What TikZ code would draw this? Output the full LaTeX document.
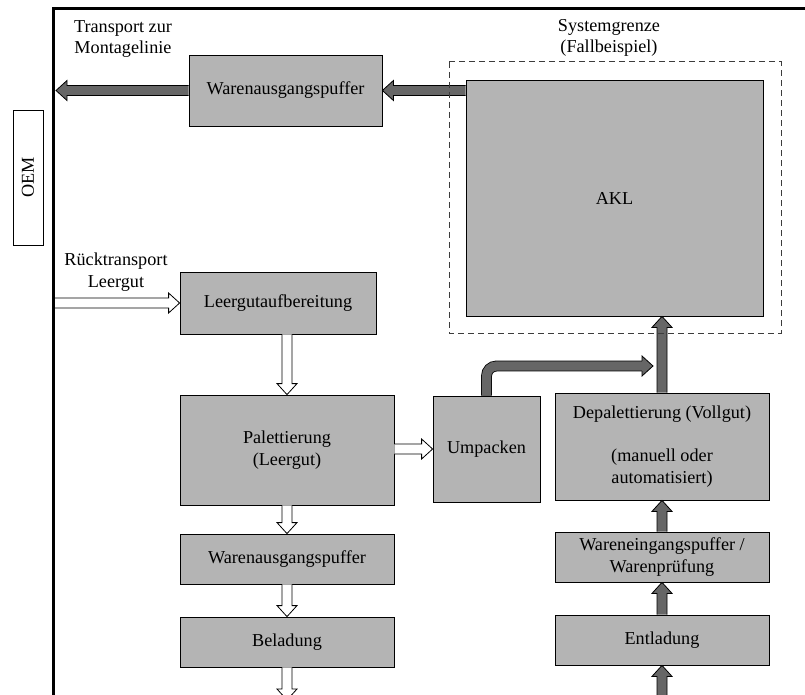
\documentclass[tikz,border=0pt]{standalone}
\usepackage{fontspec}
\setmainfont{Liberation Serif}
\usetikzlibrary{calc}

\definecolor{boxgray}{RGB}{180,180,180}
\definecolor{arrowdark}{RGB}{102,102,102}
\definecolor{dashgray}{RGB}{60,60,60}

\tikzset{
  stepbox/.style={draw=black, fill=boxgray, line width=0.8pt, inner sep=2pt, align=center},
  label text/.style={align=center, inner sep=0pt},
  headline/.style={draw=black, line width=0.8pt, line join=miter},
  frameline/.style={line width=3pt, line join=miter},
  boundary/.style={draw=dashgray, line width=1pt, dash pattern=on 6pt off 4pt},
}

% block arrow as one outlined shape: #1 fill, #2 tail, #3 tip
% (the tail end is left open, it sits on a box edge or the frame)
\newcommand\blockarrow[3]{%
  \coordinate (hb) at ($(#3)!11pt!(#2)$);
  \filldraw[fill=#1, headline]
    ($(#2)!5pt!90:(#3)$) -- ($(hb)!5pt!90:(#3)$) -- ($(hb)!10pt!90:(#3)$) -- (#3)
    -- ($(hb)!10pt!-90:(#3)$) -- ($(hb)!5pt!-90:(#3)$) -- ($(#2)!5pt!-90:(#3)$);
}
% head only: #1 fill, #2 point behind the tip, #3 tip
\newcommand\blockhead[3]{%
  \coordinate (hb) at ($(#3)!11pt!(#2)$);
  \filldraw[fill=#1, headline]
    ($(hb)!5pt!90:(#3)$) -- ($(hb)!10pt!90:(#3)$) -- (#3)
    -- ($(hb)!10pt!-90:(#3)$) -- ($(hb)!5pt!-90:(#3)$);
}

\begin{document}
\begin{tikzpicture}[x=1pt, y=-1pt, font=\fontsize{18.2}{21.5}\selectfont]
  \useasboundingbox (0,0) rectangle (805,695);

  % outer frame of the plant
  \draw[frameline] (53.5,695) -- (53.5,8.5) -- (805,8.5);

  % OEM side
  \node[draw=black, line width=0.8pt, minimum width=30pt, minimum height=135pt, inner sep=0pt]
    (oem) at (28,177.5) {};
  \node[rotate=90] (oemlabel) at (oem.center) {OEM};

  % process blocks
  \node[stepbox, minimum width=193pt, minimum height=71pt] (wa1) at (285.5,90.5) {Warenausgangspuffer};
  \node[stepbox, minimum width=297pt, minimum height=236pt] (akl) at (614.5,198) {AKL};
  \node[stepbox, minimum width=196pt, minimum height=62pt] (leer) at (278,303) {Leergutaufbereitung};
  \node[stepbox, minimum width=214pt, minimum height=110pt] (pal) at (287,450) {Palettierung\\(Leergut)};
  \node[stepbox, minimum width=107pt, minimum height=106pt] (ump) at (486.5,449) {Umpacken};
  \node[stepbox, minimum width=214pt, minimum height=107pt] (depal) at (662,446.5)
    {Depalettierung (Vollgut)\\[21.5pt](manuell oder\\automatisiert)};
  \node[stepbox, minimum width=214pt, minimum height=50pt] (wa2) at (287,559) {Warenausgangspuffer};
  \node[stepbox, minimum width=214pt, minimum height=50pt] (bel) at (287,642) {Beladung};
  \node[stepbox, minimum width=214pt, minimum height=50pt] (wein) at (662,557)
    {Wareneingangspuffer /\\Warenprüfung};
  \node[stepbox, minimum width=214pt, minimum height=50pt] (entl) at (662,640) {Entladung};

  % free labels
  \node[label text] (transport) at (123,39) {Transport zur\\Montagelinie};
  \node[label text] (ruecktransport) at (116,272) {Rücktransport\\Leergut};
  \node[label text] (sysgrenze) at (609,38) {Systemgrenze\\(Fallbeispiel)};

  % connector end points
  \coordinate (exit) at (56,90.5);
  \coordinate (aklout) at (wa1.east -| akl.west);
  \coordinate (retin) at (55,303);
  \coordinate (leerout) at (pal.north |- leer.south);
  \coordinate (palout) at (pal.east |- ump.west);
  \coordinate (aklin) at (depal.north |- akl.south);
  \coordinate (belout) at (287,700);
  \coordinate (entlin) at (662,700);
  \coordinate (merge) at (653,366);
  \coordinate (bend) at (ump.north |- merge);
  \coordinate (mergeshaft) at ($(merge)!10.5pt!(bend)$);

  % full goods (dark arrows)
  \blockarrow{arrowdark}{aklout}{wa1.east}
  \blockarrow{arrowdark}{wa1.west}{exit}
  \blockarrow{arrowdark}{entlin}{entl.south}
  \blockarrow{arrowdark}{entl.north}{wein.south}
  \blockarrow{arrowdark}{wein.north}{depal.south}
  \blockarrow{arrowdark}{depal.north}{aklin}
  % repacked goods join the flow into the AKL
  \draw[line width=10.8pt, black, rounded corners=10pt] (ump.north) -- (bend) -- (mergeshaft);
  \draw[line width=9.2pt, arrowdark, rounded corners=10pt] (ump.north) -- (bend) -- (mergeshaft);
  \blockhead{arrowdark}{bend}{merge}

  % empties (white arrows)
  \blockarrow{white}{retin}{leer.west}
  \blockarrow{white}{leerout}{pal.north}
  \blockarrow{white}{palout}{ump.west}
  \blockarrow{white}{pal.south}{wa2.north}
  \blockarrow{white}{wa2.south}{bel.north}
  \blockarrow{white}{bel.south}{belout}

  % system boundary of the case study
  \draw[boundary] (449,62) rectangle (781,333);
\end{tikzpicture}
\end{document}
